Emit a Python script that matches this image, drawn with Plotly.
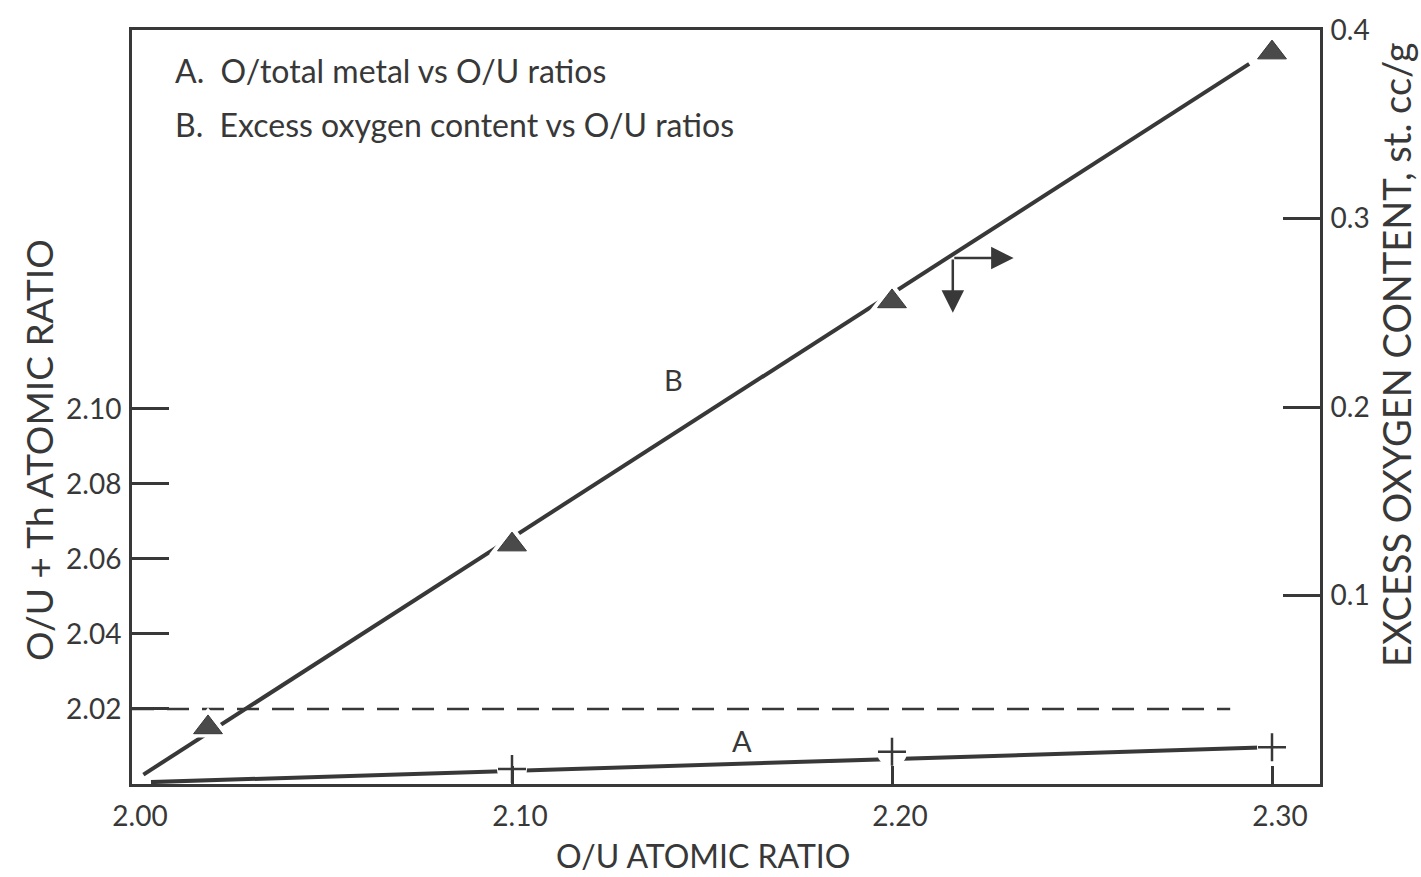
import plotly.graph_objects as go

# ---------------- data ----------------
# Curve A: O/total metal vs O/U ratio (left axis)
ou_ratio_A = [2.10, 2.20, 2.30]
o_total_metal_A = [2.0040, 2.0086, 2.0098]
fit_A_x = [2.005, 2.297]
fit_A_y = [2.0005, 2.0097]

# Curve B: excess oxygen content vs O/U ratio (right axis)
ou_ratio_B = [2.02, 2.10, 2.20, 2.30]
excess_oxygen_B = [0.030, 0.127, 0.256, 0.388]
fit_B_x = [2.003, 2.294]
fit_B_y = [0.005, 0.382]

# reference dashed line at O/(U+Th) = 2.02
ref_x = [2.00, 2.289]
ref_y = [2.02, 2.02]

x_ticks = [2.00, 2.10, 2.20, 2.30]
x_ticktext = ["2.00", "2.10", "2.20", "2.30"]
yl_ticks = [2.02, 2.04, 2.06, 2.08, 2.10]
yl_ticktext = ["2.02", "2.04", "2.06", "2.08", "2.10"]
yr_ticks = [0.1, 0.2, 0.3, 0.4]
yr_ticktext = ["0.1", "0.2", "0.3", "0.4"]

# ---------------- styling ----------------
INK = "#383838"
FONT = "Lato"
W, H = 1421, 877
L, R, T, B = 132, 1320, 23, 784


def px(xp):
    return (xp - L) / (R - L)


def py(yp):
    return (B - yp) / (B - T)


fig = go.Figure()

# fitted lines
fig.add_trace(go.Scatter(x=fit_B_x, y=fit_B_y, mode="lines", yaxis="y2",
                         line=dict(color=INK, width=4), hoverinfo="skip"))
fig.add_trace(go.Scatter(x=fit_A_x, y=fit_A_y, mode="lines",
                         line=dict(color=INK, width=4), hoverinfo="skip"))

# white halos to break the lines around the markers
fig.add_trace(go.Scatter(x=ou_ratio_B, y=excess_oxygen_B, mode="markers", yaxis="y2",
                         marker=dict(symbol="triangle-up", size=40, color="white",
                                     line=dict(width=0)), hoverinfo="skip"))
fig.add_trace(go.Scatter(x=ou_ratio_A, y=o_total_metal_A, mode="markers",
                         marker=dict(symbol="circle", size=30, color="white",
                                     line=dict(width=0)), hoverinfo="skip"))

# dashed reference line
fig.add_trace(go.Scatter(x=ref_x, y=ref_y, mode="lines",
                         line=dict(color=INK, width=2.5, dash="22px,13px"),
                         hoverinfo="skip"))

# markers
fig.add_trace(go.Scatter(x=ou_ratio_B, y=excess_oxygen_B, mode="markers", yaxis="y2",
                         marker=dict(symbol="triangle-up", size=25, color="#4a4a4a",
                                     line=dict(width=1, color=INK))))
fig.add_trace(go.Scatter(x=ou_ratio_A, y=o_total_metal_A, mode="markers",
                         marker=dict(symbol="cross-thin", size=20,
                                     line=dict(width=2.5, color=INK))))


def txt(text, x, y, size, angle=0, xanchor="center"):
    return dict(text=text, xref="paper", yref="paper", x=px(x), y=py(y),
                xanchor=xanchor, yanchor="middle", textangle=angle, showarrow=False,
                font=dict(size=size, color=INK, family=FONT))


ann = [
    txt("A.&nbsp;&nbsp;O/total metal vs O/U ratios", 173, 64, 32, xanchor="left"),
    txt("B.&nbsp;&nbsp;Excess oxygen content vs O/U ratios", 173, 118, 32, xanchor="left"),
    txt("O/U ATOMIC RATIO", 703, 856, 32),
    txt("O/U + Th ATOMIC RATIO", 38, 447, 37, angle=-90),
    txt("EXCESS OXYGEN CONTENT, st. cc/g", 1396, 351, 38, angle=-90),
]
ann.append(dict(text="A", xref="x", yref="y", x=2.1605, y=2.0116, showarrow=False,
                font=dict(size=29, color=INK, family=FONT)))
ann.append(dict(text="B", xref="x", yref="y2", x=2.1424, y=0.2145, showarrow=False,
                font=dict(size=29, color=INK, family=FONT)))
# axis-pointer arrows (curve B belongs to the right axis)
ann.append(dict(text="", xref="x", yref="y2", axref="x", ayref="y2",
                x=2.232, y=0.279, ax=2.216, ay=0.279, showarrow=True, arrowhead=2,
                arrowsize=1.8, arrowwidth=2.5, arrowcolor=INK, standoff=0, startstandoff=0))
ann.append(dict(text="", xref="x", yref="y2", axref="x", ayref="y2",
                x=2.216, y=0.250, ax=2.216, ay=0.279, showarrow=True, arrowhead=2,
                arrowsize=1.8, arrowwidth=2.5, arrowcolor=INK, standoff=0, startstandoff=0))

fig.update_layout(
    width=W, height=H,
    margin=dict(l=L, r=W - R, t=T, b=H - B, pad=0),
    paper_bgcolor="white", plot_bgcolor="white",
    showlegend=False,
    font=dict(family=FONT, color=INK),
    annotations=ann,
    xaxis=dict(range=[2.0, 2.0 + (R - L) / 3800], tickvals=x_ticks, ticktext=x_ticktext,
               ticks="inside", ticklen=18, tickwidth=2.5, tickcolor=INK,
               showline=True, linewidth=3, linecolor=INK, mirror=True,
               showgrid=False, zeroline=False, ticklabelstandoff=5, ticklabelshift=8,
               tickfont=dict(size=28, color=INK, family=FONT)),
    yaxis=dict(range=[2.0, 2.0 + (B - T) / 3787.5], tickvals=yl_ticks, ticktext=yl_ticktext,
               ticks="inside", ticklen=37, tickwidth=2.5, tickcolor=INK,
               showline=True, linewidth=3, linecolor=INK,
               showgrid=False, zeroline=False, ticklabelstandoff=2,
               tickfont=dict(size=28, color=INK, family=FONT)),
    yaxis2=dict(range=[0, 0.4], tickvals=yr_ticks, ticktext=yr_ticktext, overlaying="y",
                side="right", ticks="inside", ticklen=37, tickwidth=2.5, tickcolor=INK,
                showline=True, linewidth=3, linecolor=INK,
                showgrid=False, zeroline=False, ticklabelstandoff=2,
                tickfont=dict(size=28, color=INK, family=FONT)),
)

fig.write_html("out.html")
